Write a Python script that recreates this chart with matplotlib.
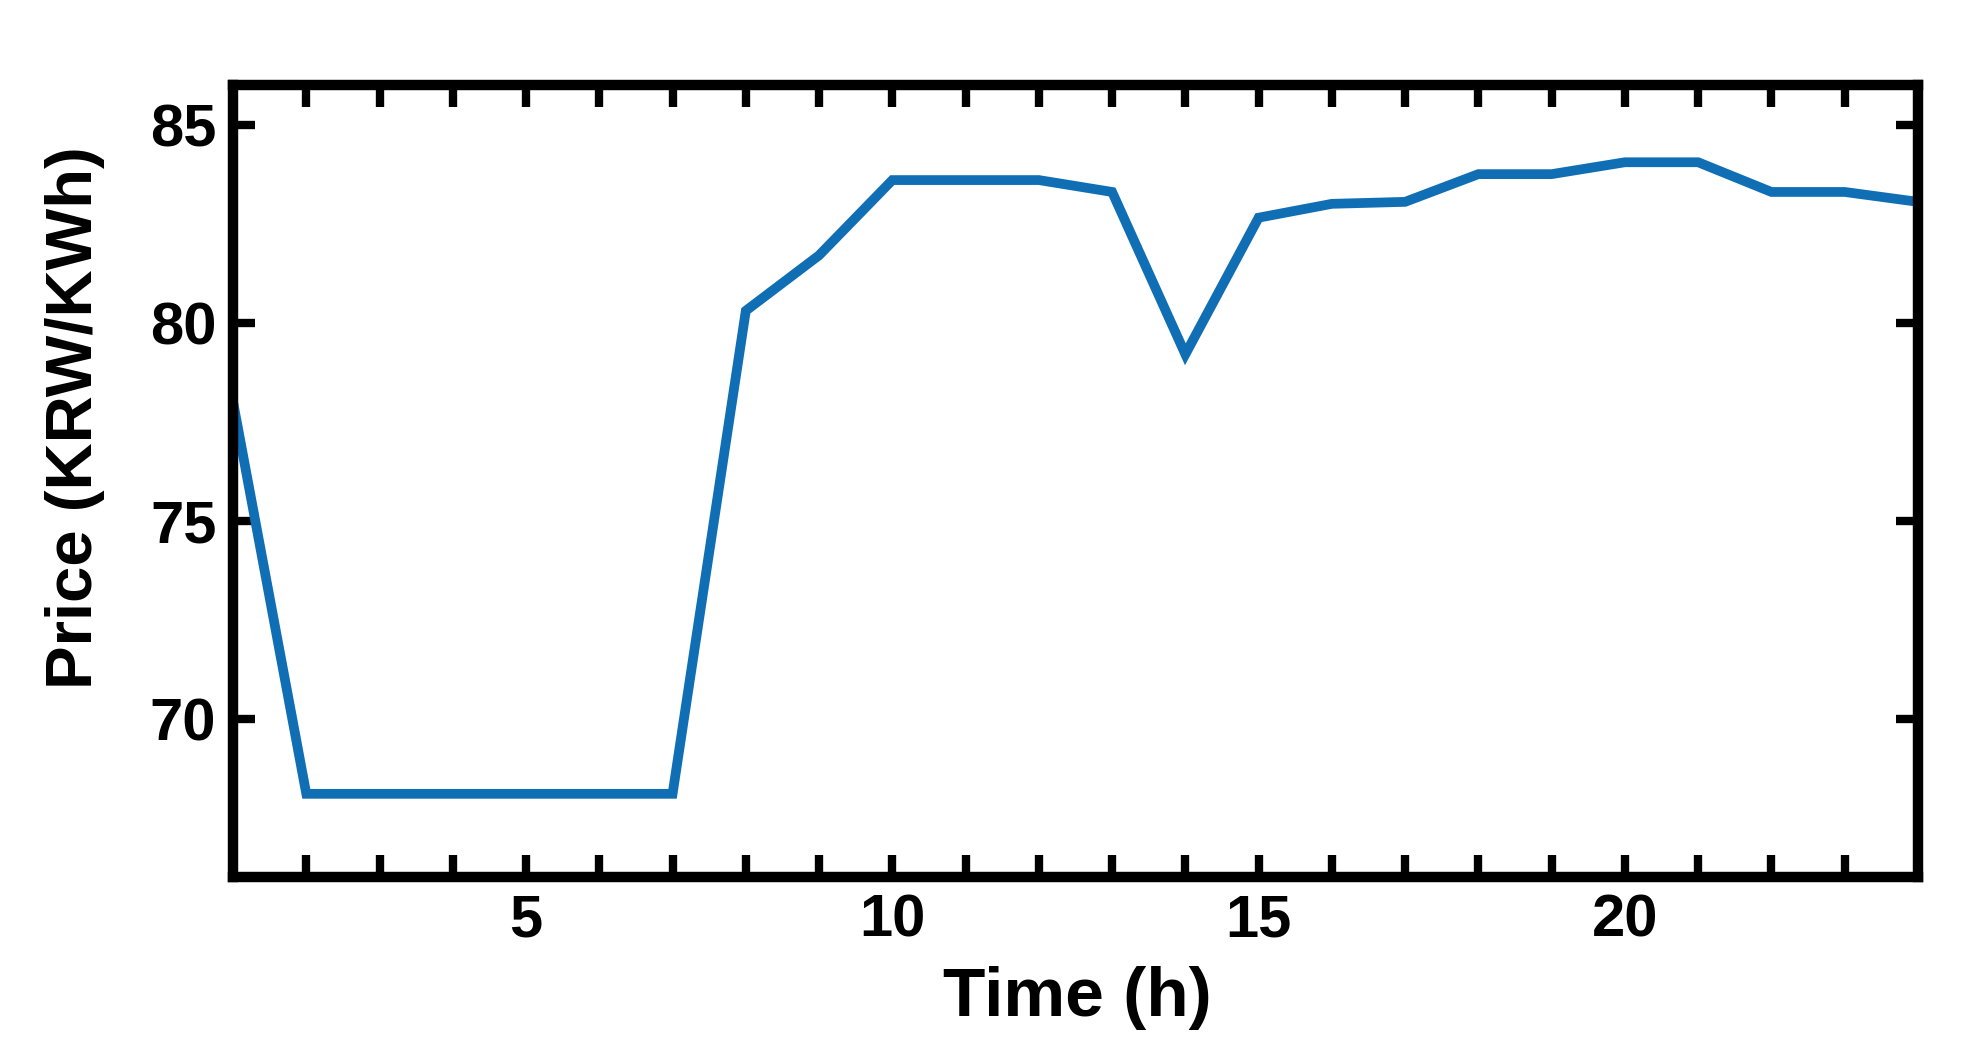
import matplotlib
matplotlib.use("Agg")
import matplotlib.pyplot as plt

plt.rcParams["font.family"] = ["Liberation Sans", "DejaVu Sans"]
plt.rcParams["font.weight"] = "bold"

# ── データ──
hours = list(range(1, 25))
price = [78.0, 68.1, 68.1, 68.1, 68.1, 68.1, 68.1, 80.3, 81.7, 83.6, 83.6, 83.6,
         83.3, 79.2, 82.65, 83.0, 83.05, 83.75, 83.75, 84.05, 84.05, 83.3, 83.3, 83.05]
y_ticks = [70, 75, 80, 85]
x_labeled = [5, 10, 15, 20]

fig = plt.figure(figsize=(19.85, 10.63), dpi=100)
ax = fig.add_axes([0.1174, 0.175, 0.8488, 0.745])

ax.plot(hours, price, color="#106EB4", linewidth=7.0, solid_joinstyle="miter")

ax.set_xlim(1, 24)
ax.set_ylim(66, 86)
ax.set_xticks(hours)
ax.set_xticklabels([str(h) if h in x_labeled else "" for h in hours])
ax.set_yticks(y_ticks)

ax.tick_params(direction="in", length=16, width=6, top=True, right=True,
               labelsize=43, pad=12)
for s in ax.spines.values():
    s.set_linewidth(7.5)

ax.set_xlabel("Time (h)", fontsize=50, fontweight="bold")
ax.set_ylabel("Price (KRW/KWh)", fontsize=47, fontweight="bold")
ax.xaxis.set_label_coords(0.501, -0.113)
ax.yaxis.set_label_coords(-0.076, 0.58)

fig.savefig("out.png", dpi=100)
